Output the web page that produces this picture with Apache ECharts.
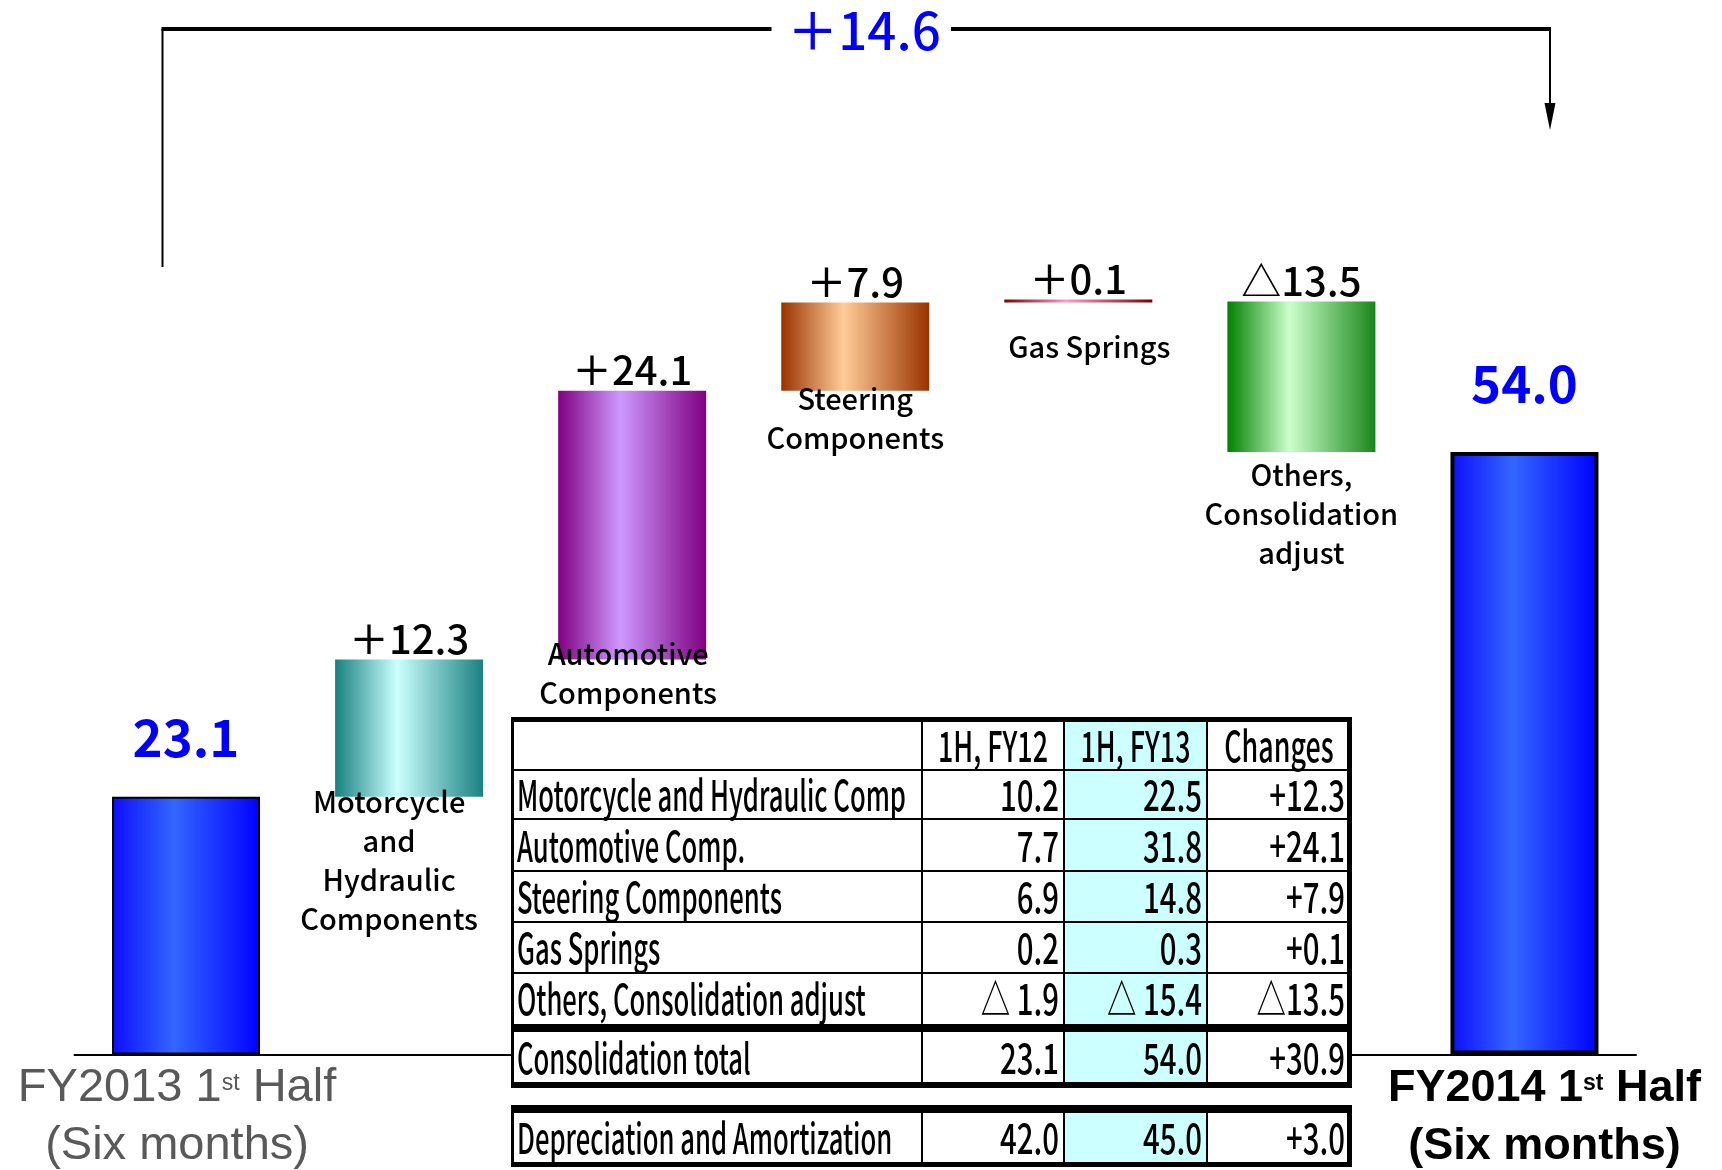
<!DOCTYPE html>
<html>
<head>
<meta charset="utf-8">
<title>Operating income change FY2013 1H - FY2014 1H</title>
<script src="https://cdn.jsdelivr.net/npm/echarts@6/dist/echarts.min.js"></script>
<style>
    html, body { margin: 0; padding: 0; background: #fff; }
    #main { width: 1722px; height: 1170px; }
</style>
</head>
<body>
<div id="main"></div>
<script>
// 瀑布图数据
var startName = 'FY2013 1st Half';
var endName = 'FY2014 1st Half';
var periodNote = '(Six months)';
var stepNames = [
    'Motorcycle\nand\nHydraulic\nComponents',
    'Automotive\nComponents',
    'Steering\nComponents',
    'Gas Springs',
    'Others,\nConsolidation\nadjust'
];
var startTotal = 23.1;
var endTotal = 54.0;
var stepChanges = [12.3, 24.1, 7.9, 0.1, -13.5];
var bracketChange = 14.6;

// 表格数据
var tableHeads = ['1H, FY12', '1H, FY13', 'Changes'];
var tableNames = [
    'Motorcycle and Hydraulic Comp',
    'Automotive Comp.',
    'Steering Components',
    'Gas Springs',
    'Others, Consolidation adjust',
    'Consolidation total',
    'Depreciation and Amortization'
];
var tableFY12 = [10.2, 7.7, 6.9, 0.2, -1.9, 23.1, 42.0];
var tableFY13 = [22.5, 31.8, 14.8, 0.3, -15.4, 54.0, 45.0];
var tableChanges = [12.3, 24.1, 7.9, 0.1, -13.5, 30.9, 3.0];

// 颜色 (左边, 中间, 右边)
var barColors = [
    ['#0d0dff', '#3366ff', '#0000ff'],
    ['#178080', '#ccffff', '#1a8080'],
    ['#800080', '#cc99ff', '#800080'],
    ['#993300', '#ffcc99', '#993300'],
    ['#800000', '#ff99cc', '#800000'],
    ['#008000', '#ccffcc', '#1a861a'],
    ['#0d0dff', '#3366ff', '#0000ff']
];
// 名称标签的微调 (px)
var nameOffsets = [null, [-20, -14], [-4, -25], [0, -11], [11, 25], [0, 3], null];

var gothic = '"Noto Sans CJK JP", sans-serif';
var arial = '"Liberation Sans", Arial, sans-serif';

function stepText(v) {
    return (v >= 0 ? '＋' : '△') + Math.abs(v).toFixed(1);
}

// 计算瀑布的底座
var categories = [startName].concat(stepNames, [endName]);
var baseData = [0];
var barData = [startTotal];
var barLabels = [startTotal.toFixed(1)];
var run = startTotal;
stepChanges.forEach(function (d) {
    if (d >= 0) {
        baseData.push(run);
        barData.push(d);
    } else {
        baseData.push(run + d);
        barData.push(-d);
    }
    barLabels.push(stepText(d));
    run += d;
});
baseData.push(0);
barData.push(endTotal);
barLabels.push(endTotal.toFixed(1));

function grad(c) {
    return {
        type: 'linear', x: 0, y: 0, x2: 1, y2: 0,
        colorStops: [
            { offset: 0, color: c[0] },
            { offset: 0.42, color: c[1] },
            { offset: 1, color: c[2] }
        ]
    };
}

var last = barData.length - 1;
var barItems = barData.map(function (v, i) {
    var isTotal = i === 0 || i === last;
    return {
        value: v,
        itemStyle: {
            color: grad(barColors[i]),
            borderColor: '#000',
            borderWidth: isTotal ? (i === 0 ? 2 : 4) : 0
        },
        label: isTotal
            ? { color: '#0000ff', fontSize: 51, fontWeight: 'bold', distance: i === 0 ? 34 : 43 }
            : { color: '#000', fontSize: 40, fontWeight: 500, distance: 1 }
    };
});

var baseItems = baseData.map(function (v, i) {
    var off = nameOffsets[i];
    return {
        value: v,
        label: off ? { show: true, offset: off } : { show: false }
    };
});

// x轴标签 (上标 st)
function axisRich(text, key) {
    var m = text.match(/^(.*\d)(st|nd|rd|th)(.*)$/);
    if (key === 'g') {
        return '{g|' + m[1] + '}{gs|' + m[2] + '}{gr|' + m[3] + '}\n{gr|' + periodNote + '}';
    }
    return '{bl|' + m[1] + '}{bs|' + m[2] + '}{b|' + m[3] + '}\n{bl|' + periodNote + '}';
}

// 表格 (graphic)
var graphics = [];
function addRect(x, y, w, h, fill) {
    graphics.push({ type: 'rect', z: 10, shape: { x: x, y: y, width: w, height: h }, style: { fill: fill } });
}
function addText(x, y, text, align, sx) {
    graphics.push({
        type: 'text', z: 12, x: x, y: y, scaleX: sx,
        style: { text: text, font: '500 42px ' + gothic, fill: '#000', textAlign: align, textVerticalAlign: 'middle' }
    });
}
function fyText(v) {
    return v < 0 ? '△ ' + (-v).toFixed(1) : v.toFixed(1);
}
function chText(v) {
    return v < 0 ? '△' + (-v).toFixed(1) : '+' + v.toFixed(1);
}

var colX = [512, 922, 1064, 1207, 1351];
var bands = [[720, 770], [770, 819], [819, 871], [871, 922], [922, 973], [973, 1024], [1032, 1082], [1113, 1162]];

// 背景
addRect(512, 717, 839, 371, '#fff');
addRect(512, 1105, 839, 62, '#fff');
addRect(colX[2], 720, colX[3] - colX[2], 362, '#ccffff');
addRect(colX[2], 1113, colX[3] - colX[2], 49, '#ccffff');
// 横线
addRect(512, 717, 840, 5, '#000');
[770, 819, 871, 922, 973].forEach(function (y) { addRect(512, y - 1, 839, 2, '#000'); });
addRect(512, 1024, 840, 8, '#000');
addRect(512, 1082, 840, 6, '#000');
addRect(512, 1105, 840, 8, '#000');
addRect(512, 1162, 840, 5, '#000');
// 竖线
[[717, 1088], [1105, 1167]].forEach(function (t) {
    addRect(511, t[0], 3, t[1] - t[0], '#000');
    addRect(1347, t[0], 5, t[1] - t[0], '#000');
    [colX[1], colX[2], colX[3]].forEach(function (x) { addRect(x - 1, t[0], 2, t[1] - t[0], '#000'); });
});
// 文字
tableHeads.forEach(function (h, k) {
    addText((colX[k + 1] + colX[k + 2]) / 2, (bands[0][0] + bands[0][1]) / 2 + 1, h, 'center', 0.64);
});
tableNames.forEach(function (name, r) {
    var b = bands[r + 1];
    var cy = (b[0] + b[1]) / 2 + 1;
    addText(colX[0] + 5, cy, name, 'left', 0.61);
    addText(colX[2] - 5, cy, fyText(tableFY12[r]), 'right', 0.7);
    addText(colX[3] - 5, cy, fyText(tableFY13[r]), 'right', 0.7);
    addText(colX[4] - 6, cy, chText(tableChanges[r]), 'right', 0.7);
});

// 顶部括号箭头
graphics.push({ type: 'rect', z: 10, shape: { x: 161.5, y: 29, width: 2, height: 238 }, style: { fill: '#000' } });
graphics.push({ type: 'rect', z: 10, shape: { x: 161.5, y: 27, width: 610, height: 4 }, style: { fill: '#000' } });
graphics.push({ type: 'rect', z: 10, shape: { x: 951, y: 27, width: 600, height: 4 }, style: { fill: '#000' } });
graphics.push({ type: 'rect', z: 10, shape: { x: 1549, y: 29, width: 2, height: 78 }, style: { fill: '#000' } });
graphics.push({ type: 'polygon', z: 10, shape: { points: [[1544.5, 103], [1555.5, 103], [1550, 130]] }, style: { fill: '#000' } });
graphics.push({
    type: 'text', z: 12, x: 864, y: 31,
    style: { text: stepText(bracketChange), font: '500 51px ' + gothic, fill: '#0000ff', textAlign: 'center', textVerticalAlign: 'middle' }
});

var chart = echarts.init(document.getElementById('main'));
chart.setOption({
    animation: false,
    backgroundColor: '#fff',
    grid: { left: 74.5, right: 86, top: 162, bottom: 110 },
    xAxis: {
        type: 'category',
        data: categories,
        axisLine: { lineStyle: { color: '#000', width: 2 } },
        axisTick: { show: false },
        axisLabel: {
            interval: 0,
            margin: 5,
            formatter: function (v, i) {
                if (i === 0) return axisRich(startName, 'g');
                if (i === last) return axisRich(endName, 'b');
                return '';
            },
            rich: {
                g: { fontFamily: arial, fontSize: 47, lineHeight: 58, color: '#595959' },
                gr: { fontFamily: arial, fontSize: 47, lineHeight: 58, color: '#595959', padding: [0, 18, 0, 0] },
                gs: { fontFamily: arial, fontSize: 23, color: '#595959', padding: [0, 0, 10, 0] },
                b: { fontFamily: arial, fontSize: 45, fontWeight: 'bold', lineHeight: 58, color: '#000' },
                bl: { fontFamily: arial, fontSize: 45, fontWeight: 'bold', lineHeight: 58, color: '#000', padding: [0, 0, 0, 40] },
                bs: { fontFamily: arial, fontSize: 23, fontWeight: 'bold', color: '#000', padding: [0, 0, 10, 0] }
            }
        }
    },
    yAxis: { type: 'value', min: 0, max: 80, show: false },
    series: [
        {
            name: 'base',
            type: 'bar',
            stack: 'wf',
            z: 3,
            barWidth: 148,
            itemStyle: { color: 'rgba(0,0,0,0)' },
            label: {
                position: 'insideTop',
                distance: 0,
                fontFamily: gothic,
                fontSize: 29,
                fontWeight: 500,
                lineHeight: 39,
                color: '#000',
                align: 'center',
                formatter: function (p) { return categories[p.dataIndex]; }
            },
            data: baseItems
        },
        {
            name: 'change',
            type: 'bar',
            stack: 'wf',
            z: 2,
            barWidth: 148,
            barMinHeight: 3,
            label: {
                show: true,
                position: 'top',
                fontFamily: gothic,
                formatter: function (p) { return barLabels[p.dataIndex]; }
            },
            data: barItems
        }
    ],
    graphic: { elements: graphics }
});
</script>
</body>
</html>
